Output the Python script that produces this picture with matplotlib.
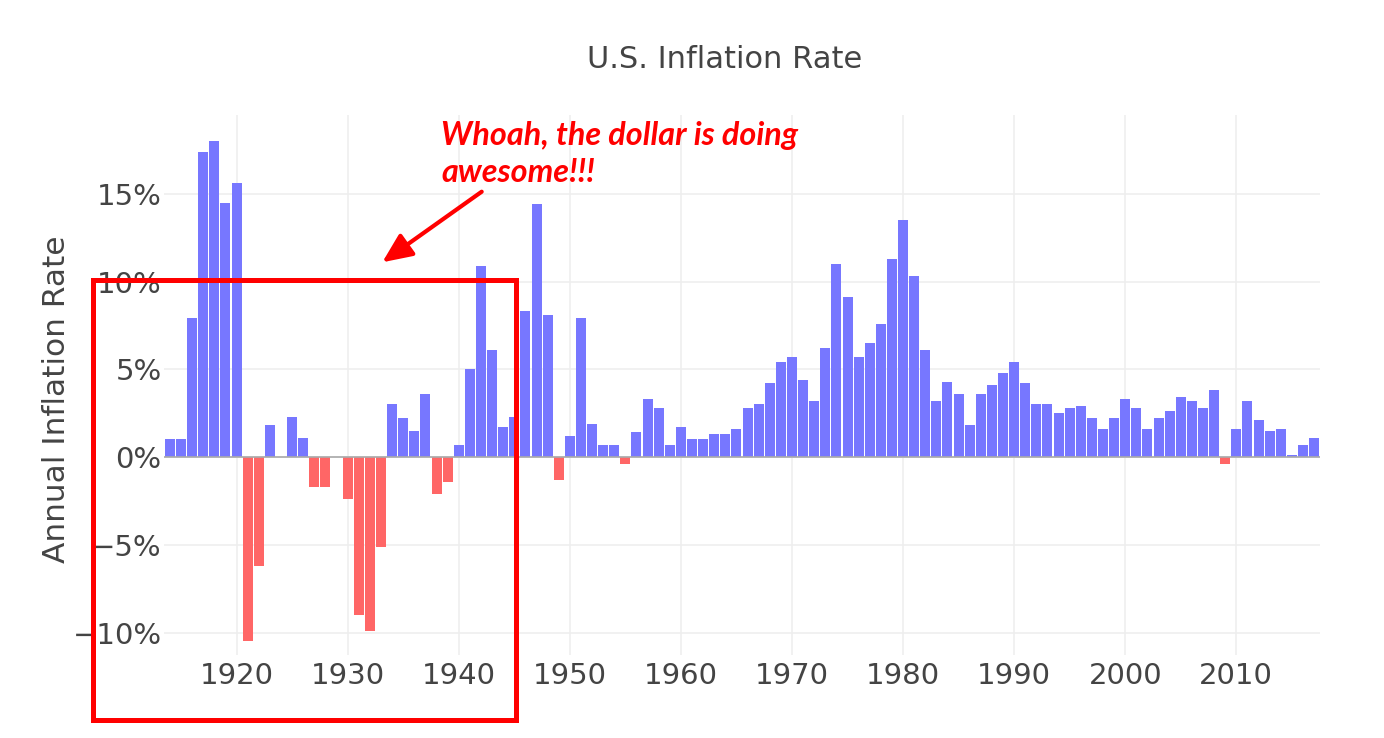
import numpy as np
import matplotlib
matplotlib.use("Agg")
from matplotlib import pyplot as plt
from matplotlib.patches import Rectangle
from matplotlib.ticker import FuncFormatter


# Data (percent per year).

years = np.arange(1914, 2018)

rate_1910s = [1.0, 1.0, 7.9, 17.4, 18.0, 14.5]
rate_1920s = [15.6, -10.5, -6.2, 1.8, 0.0, 2.3, 1.1, -1.7, -1.7, 0.0]
rate_1930s = [-2.4, -9.0, -9.9, -5.1, 3.0, 2.2, 1.5, 3.6, -2.1, -1.4]
rate_1940s = [0.7, 5.0, 10.9, 6.1, 1.7, 2.3, 8.3, 14.4, 8.1, -1.3]
rate_1950s = [1.2, 7.9, 1.9, 0.7, 0.7, -0.4, 1.4, 3.3, 2.8, 0.7]
rate_1960s = [1.7, 1.0, 1.0, 1.3, 1.3, 1.6, 2.8, 3.0, 4.2, 5.4]
rate_1970s = [5.7, 4.4, 3.2, 6.2, 11.0, 9.1, 5.7, 6.5, 7.6, 11.3]
rate_1980s = [13.5, 10.3, 6.1, 3.2, 4.3, 3.6, 1.8, 3.6, 4.1, 4.8]
rate_1990s = [5.4, 4.2, 3.0, 3.0, 2.5, 2.8, 2.9, 2.2, 1.6, 2.2]
rate_2000s = [3.3, 2.8, 1.6, 2.2, 2.6, 3.4, 3.2, 2.8, 3.8, -0.4]
rate_2010s = [1.6, 3.2, 2.1, 1.5, 1.6, 0.1, 0.7, 1.1]

rates = np.array(rate_1910s + rate_1920s + rate_1930s + rate_1940s + rate_1950s
                 + rate_1960s + rate_1970s + rate_1980s + rate_1990s
                 + rate_2000s + rate_2010s)

x_ticks = [1920, 1930, 1940, 1950, 1960, 1970, 1980, 1990, 2000, 2010]
y_ticks = [-10, -5, 0, 5, 10, 15]

title = "U.S. Inflation Rate"
y_label = "Annual Inflation Rate"
note_line1 = "Whoah, the dollar is doing"
note_line2 = "awesome!!!"


# Figure in pixels.
W, H = 1384, 738
fig = plt.figure(figsize=(W / 100, H / 100), dpi=100)

def px(x, y):
    # pixel position (from top left) -> figure fraction
    return x / W, 1 - y / H

left, top = px(164.4, 115)
right, bottom = px(1319.6, 655)
ax = fig.add_axes([left, bottom, right - left, top - bottom])

text_color = "#444444"
blue = "#7777ff"
red = "#ff6666"

colors = [blue if r >= 0 else red for r in rates]
ax.bar(years, rates, width=0.9, color=colors, zorder=3)

ax.set_xlim(1913.5, 2017.5)
ax.set_ylim(-11.28, 19.49)

ax.set_xticks(x_ticks)
ax.set_yticks(y_ticks)
ax.yaxis.set_major_formatter(FuncFormatter(lambda v, p: ("%d%%" % v).replace("-", "\u2212")))
ax.tick_params(length=0, labelsize=21, colors=text_color)
ax.tick_params(axis="y", pad=2)
ax.tick_params(axis="x", pad=5)

ax.grid(True, color="#eeeeee", linewidth=1.1, zorder=0)
ax.axhline(0, color="#aaaaaa", linewidth=1.2, zorder=4)
for s in ax.spines.values():
    s.set_visible(False)

# Title and axis label.
tx, ty = px(725, 59)
fig.text(tx, ty, title, ha="center", va="center", fontsize=22, color=text_color)
lx, ly = px(57, 399)
fig.text(lx, ly, y_label, ha="center", va="center", rotation=90, fontsize=22.5, color=text_color)

# Red note, arrow and box.
note_font = ["Lato", "Roboto", "DejaVu Sans"]
nx, ny1 = px(441, 145)
_, ny2 = px(441, 182)
t1 = fig.text(nx, ny1, note_line1, ha="left", va="baseline", fontsize=23, color="red",
              fontweight="bold", fontstyle="italic", family=note_font)
t2 = fig.text(nx, ny2, note_line2, ha="left", va="baseline", fontsize=23, color="red",
              fontweight="bold", fontstyle="italic", family=note_font)

# squeeze the note to the width it has in the picture (about 357 px)
renderer = fig.canvas.get_renderer()
w1 = t1.get_window_extent(renderer).width
size = 23 * 357 / w1
t1.set_fontsize(size)
t2.set_fontsize(size)

ax.annotate("", xy=px(382.3, 262.3), xytext=px(481.7, 191.7),
            xycoords="figure fraction", textcoords="figure fraction",
            arrowprops=dict(arrowstyle="-|>,head_length=0.9,head_width=0.4",
                            color="red", lw=3, mutation_scale=20,
                            shrinkA=0, shrinkB=0))

bx, by = px(92.5, 719.5)
fig.patches.append(Rectangle((bx, by), (515.5 - 92.5) / W, (719.5 - 279.5) / H,
                             transform=fig.transFigure, fill=False,
                             edgecolor="red", linewidth=3.6, zorder=10))

fig.savefig("out.png", dpi=100)
